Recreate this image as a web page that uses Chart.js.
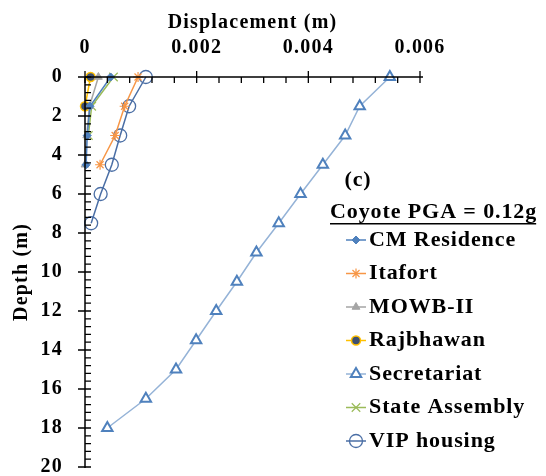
<!DOCTYPE html>
<html>
<head>
<meta charset="utf-8">
<script src="https://cdn.jsdelivr.net/npm/chart.js@4.4.1/dist/chart.umd.min.js"></script>
<style>
  html, body { margin: 0; padding: 0; background: #ffffff; }
  #wrap { width: 546px; height: 476px; }
</style>
</head>
<body>
<div id="wrap"><canvas id="c" width="546" height="476"></canvas></div>
<script>
// Depth levels (m)
const depthShallow = [0, 1.5, 3, 4.5];
const depthVip = [0, 1.5, 3, 4.5, 6, 7.5];
const depthSecretariat = [0, 1.5, 3, 4.5, 6, 7.5, 9, 10.5, 12, 13.5, 15, 16.5, 18];

// Peak displacement (m) per site
const cmResidence   = [0.00046, 0.00009, 0.00004, 0.00002];
const itafort       = [0.00095, 0.00071, 0.00054, 0.00027];
const mowb2         = [0.00024, 0.00008, 0.00003, 0.00000];
const rajbhawan     = [0.00010, 0.00000];
const secretariat   = [0.00546, 0.00492, 0.00466, 0.00426, 0.00386, 0.00347, 0.00307,
                       0.00272, 0.00235, 0.00199, 0.00163, 0.00109, 0.00040];
const stateAssembly = [0.00051, 0.00012, 0.00006];
const vipHousing    = [0.00109, 0.00079, 0.00063, 0.00048, 0.00028, 0.00011];

const xTicks = [0, 0.002, 0.004, 0.006];
const yTicks = [0, 2, 4, 6, 8, 10, 12, 14, 16, 18, 20];

const panelLabel = '(c)';
const legendTitle = 'Coyote PGA = 0.12g';

const SERIF = '"Liberation Serif", "Times New Roman", serif';

function pts(xs, ys) { return xs.map((v, i) => ({ x: v, y: ys[i] })); }

const datasets = [
  { label: 'CM Residence', data: pts(cmResidence, depthShallow),
    borderColor: '#4F81BD', backgroundColor: '#4F81BD', pointStyle: 'rectRot',
    pointRadius: 4, pointBorderWidth: 1, pointBorderColor: '#4F81BD', borderWidth: 1.5 },
  { label: 'Itafort', data: pts(itafort, depthShallow),
    borderColor: '#F79646', backgroundColor: '#F79646', pointStyle: 'star',
    pointRadius: 5, pointBorderWidth: 1.2, pointBorderColor: '#F79646', borderWidth: 1.5 },
  { label: 'MOWB-II', data: pts(mowb2, depthShallow),
    borderColor: '#A5A5A5', backgroundColor: '#A5A5A5', pointStyle: 'triangle',
    pointRadius: 4.5, pointBorderWidth: 1, pointBorderColor: '#A5A5A5', borderWidth: 1.5 },
  { label: 'Rajbhawan', data: pts(rajbhawan, depthShallow),
    borderColor: '#FFC000', backgroundColor: '#3F5070', pointStyle: 'circle',
    pointRadius: 4.5, pointBorderWidth: 1.5, pointBorderColor: '#FFC000', borderWidth: 1.5 },
  { label: 'Secretariat', data: pts(secretariat, depthSecretariat),
    borderColor: '#95B3D7', backgroundColor: '#ffffff', pointStyle: 'triangle',
    pointRadius: 6, pointBorderWidth: 2, pointBorderColor: '#4F81BD', borderWidth: 1.5 },
  { label: 'State Assembly', data: pts(stateAssembly, depthShallow),
    borderColor: '#9BBB59', backgroundColor: '#9BBB59', pointStyle: 'crossRot',
    pointRadius: 6, pointBorderWidth: 1.2, pointBorderColor: '#9BBB59', borderWidth: 1.5 },
  { label: 'VIP housing', data: pts(vipHousing, depthVip),
    borderColor: '#4A6EA5', backgroundColor: 'rgba(255,255,255,0)', pointStyle: 'circle',
    pointRadius: 6.5, pointBorderWidth: 1.3, pointBorderColor: '#4A6EA5', borderWidth: 1.5 }
];
datasets.forEach(d => { d.showLine = true; d.clip = false; d.tension = 0; });

// Text spacing used by the serif labels
const spacing = {
  id: 'spacing',
  beforeLayout(chart) { chart.ctx.letterSpacing = '1.2px'; },
  beforeDraw(chart) { chart.ctx.letterSpacing = '1.2px'; }
};

// Axis lines with crossing major ticks and inside minor ticks
const axisTicks = {
  id: 'axisTicks',
  afterDatasetsDraw(chart) {
    const { ctx, scales } = chart;
    const xs = scales.x, ys = scales.y;
    const y0 = ys.getPixelForValue(0);
    const x0 = xs.getPixelForValue(0);
    ctx.save();
    ctx.strokeStyle = '#000';
    ctx.lineWidth = 1.5;
    ctx.beginPath();
    ctx.moveTo(x0, y0); ctx.lineTo(xs.getPixelForValue(0.006) + 3, y0);
    ctx.moveTo(x0, ys.getPixelForValue(0)); ctx.lineTo(x0, ys.getPixelForValue(20) + 1);
    ctx.stroke();
    ctx.lineWidth = 1.3;
    ctx.beginPath();
    for (let i = 0; i <= 15; i++) {
      const v = i * 0.0004;
      const px = xs.getPixelForValue(v);
      if (i % 5 === 0) { ctx.moveTo(px, y0 - 6); ctx.lineTo(px, y0 + 6); }
      else { ctx.moveTo(px, y0); ctx.lineTo(px, y0 + 6); }
    }
    for (let i = 0; i <= 50; i++) {
      const v = i * 0.4;
      const py = ys.getPixelForValue(v);
      if (i % 5 === 0) { ctx.moveTo(x0 - 7, py); ctx.lineTo(x0 + 6, py); }
      else { ctx.moveTo(x0, py); ctx.lineTo(x0 + 6, py); }
    }
    ctx.stroke();
    ctx.restore();
  }
};

// Legend block with panel tag and underlined heading
const sideLegend = {
  id: 'sideLegend',
  afterDraw(chart) {
    const { ctx } = chart;
    ctx.save();
    ctx.letterSpacing = '0.9px';
    ctx.fillStyle = '#000';
    ctx.textBaseline = 'middle';
    ctx.font = 'bold 22px ' + SERIF;
    ctx.textAlign = 'center';
    ctx.fillText(panelLabel, 358, 180);
    ctx.textAlign = 'left';
    ctx.fillText(legendTitle, 330, 212);
    const w = ctx.measureText(legendTitle).width - 1;
    ctx.fillRect(330, 223, w, 1.5);
    const meta0 = 240, step = 33.5;
    chart.data.datasets.forEach((ds, i) => {
      const cy = meta0 + i * step;
      ctx.strokeStyle = ds.borderColor;
      ctx.lineWidth = 1.5;
      ctx.beginPath(); ctx.moveTo(346, cy); ctx.lineTo(366, cy); ctx.stroke();
      ctx.fillStyle = ds.backgroundColor;
      ctx.strokeStyle = ds.pointBorderColor;
      ctx.lineWidth = ds.pointBorderWidth;
      Chart.helpers.drawPoint(ctx, { pointStyle: ds.pointStyle, radius: ds.pointRadius, rotation: 0, borderWidth: ds.pointBorderWidth }, 356, cy);
      ctx.fillStyle = '#000';
      ctx.fillText(ds.label, 369, cy);
    });
    ctx.restore();
  }
};

new Chart(document.getElementById('c'), {
  type: 'scatter',
  data: { datasets },
  plugins: [spacing, axisTicks, sideLegend],
  options: {
    responsive: false,
    animation: false,
    layout: { padding: { left: 0, top: 0, right: 126, bottom: 9 } },
    plugins: { legend: { display: false }, tooltip: { enabled: false } },
    scales: {
      x: {
        type: 'linear', position: 'top', min: 0, max: 0.006,
        afterBuildTicks(s) { s.ticks = xTicks.map(v => ({ value: v })); },
        afterFit(s) { s.height = 77; s.paddingLeft = 0; s.paddingRight = 0; },
        grid: { display: false, drawTicks: false },
        border: { display: false },
        ticks: { color: '#000', font: { family: SERIF, size: 20, weight: 'bold' }, padding: 17,
                 callback: v => v === 0 ? '0' : v.toFixed(3), maxRotation: 0 },
        title: { display: true, text: 'Displacement (m)', color: '#000',
                 font: { family: SERIF, size: 20, weight: 'bold' }, padding: { top: 11, bottom: 0 } }
      },
      y: {
        type: 'linear', reverse: true, min: 0, max: 20,
        afterBuildTicks(s) { s.ticks = yTicks.map(v => ({ value: v })); },
        afterFit(s) { s.width = 85; s.paddingTop = 0; s.paddingBottom = 0; },
        grid: { display: false, drawTicks: false },
        border: { display: false },
        ticks: { color: '#000', font: { family: SERIF, size: 20, weight: 'bold' }, padding: 22 },
        title: { display: true, text: 'Depth (m)', color: '#000',
                 font: { family: SERIF, size: 20, weight: 'bold' }, padding: { top: 10, bottom: 0 } }
      }
    }
  }
});
</script>
</body>
</html>
